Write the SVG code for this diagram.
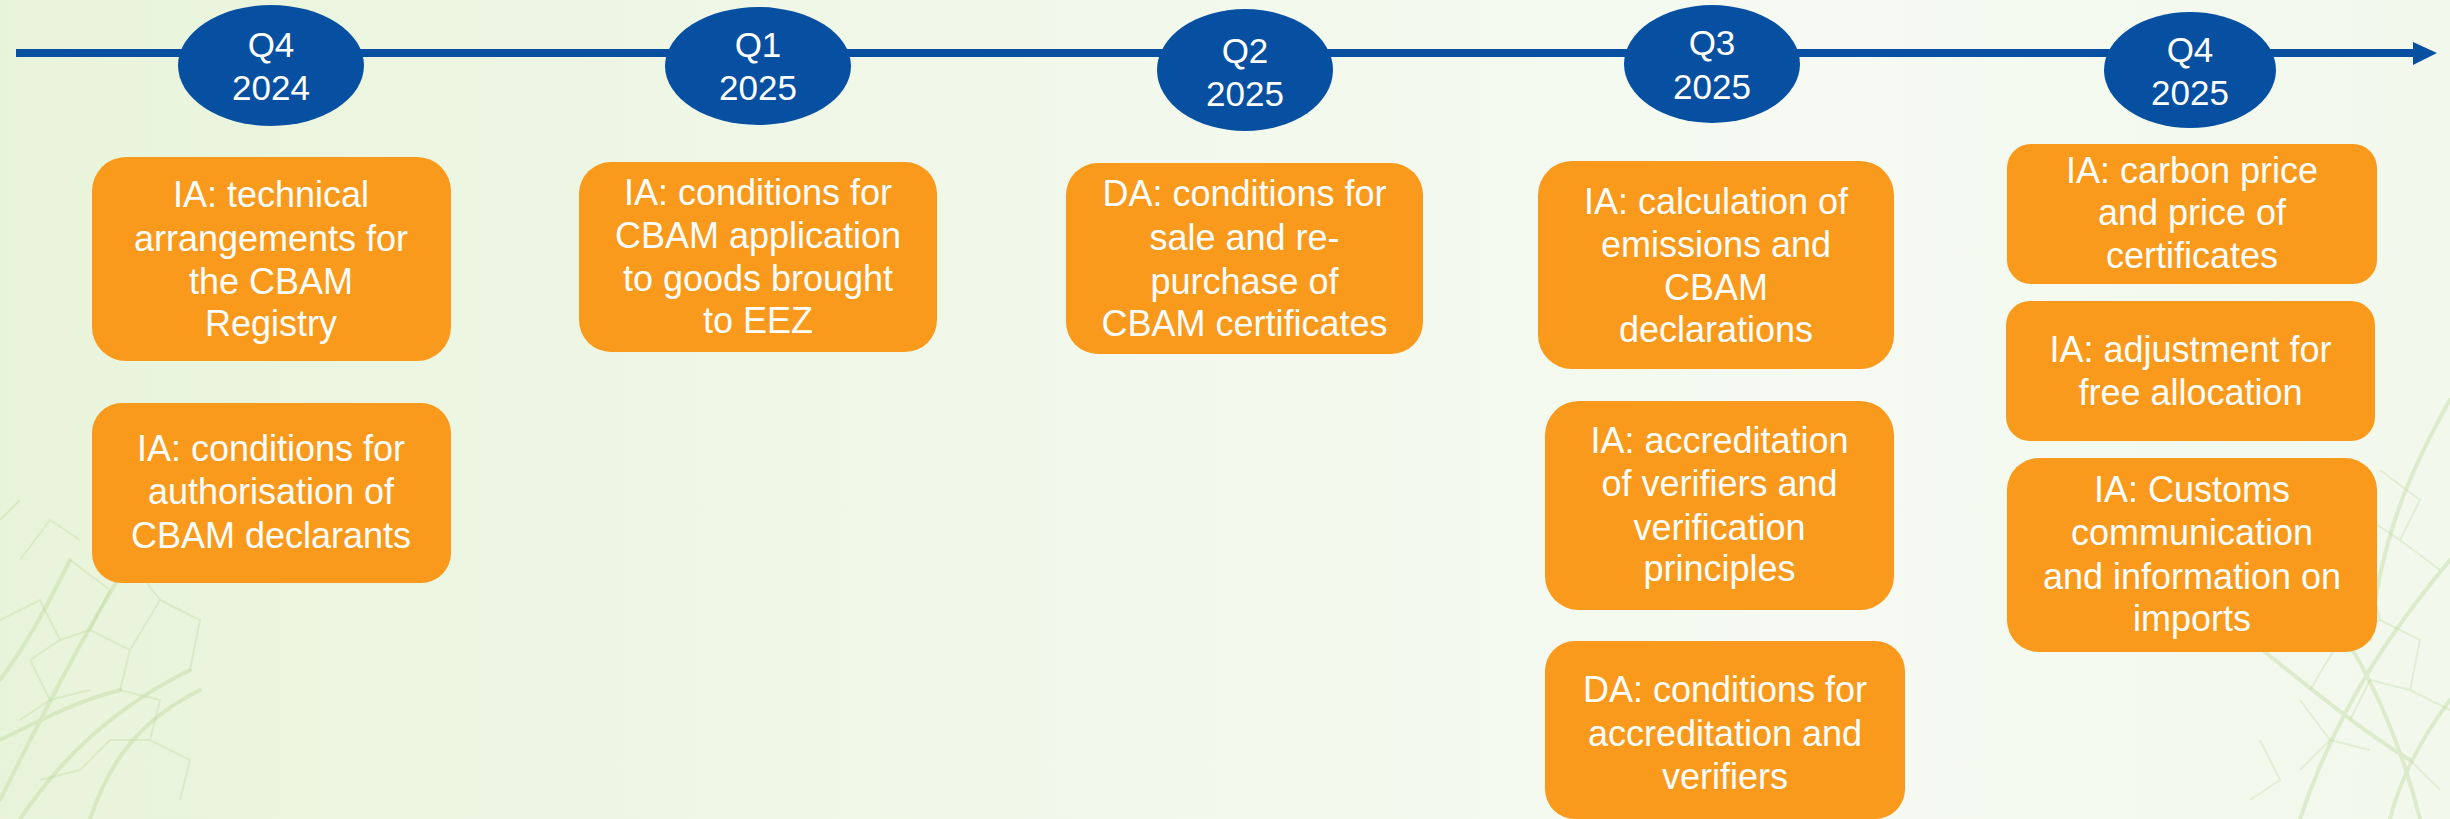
<svg xmlns="http://www.w3.org/2000/svg" width="2450" height="819" viewBox="0 0 2450 819">
<defs>
<linearGradient id="bg" x1="0" y1="0" x2="1" y2="0">
<stop offset="0" stop-color="#e8f4da"/>
<stop offset="0.45" stop-color="#f2f8eb"/>
<stop offset="0.75" stop-color="#f6faf2"/>
<stop offset="1" stop-color="#f2f8ec"/>
</linearGradient>
<style>
.box{fill:#f99a1c}
.q{fill:#0750a1}
.t{font-family:"Liberation Sans",Arial,sans-serif;font-size:36px;fill:#ffffff;text-anchor:middle}
.qt{font-family:"Liberation Sans",Arial,sans-serif;font-size:35px;fill:#ffffff;text-anchor:middle}
.vein{fill:none;stroke:#b5d38f;stroke-opacity:0.35;stroke-width:4;stroke-linecap:round}
.vein2{fill:none;stroke:#b5d38f;stroke-opacity:0.28;stroke-width:2}
</style>
</defs>
<rect x="0" y="0" width="2450" height="819" fill="url(#bg)"/>
<g id="leaves">
<path class="vein" d="M0,800 C40,720 80,640 130,560 M20,819 C60,760 110,710 190,670 M0,680 C30,640 50,600 70,560 M90,819 C110,760 140,720 200,690 M0,740 C40,720 80,700 120,690"/>
<path class="vein2" d="M0,620 L40,600 L60,640 L30,660 M70,560 L110,590 L90,630 L60,640 M90,630 L130,650 L120,690 M30,660 L50,700 L20,720 M50,700 L90,690 M120,690 L160,700 L150,740 L110,740 M110,740 L80,770 L40,780 M150,740 L190,760 L180,800 M130,560 L160,600 L130,650 M160,600 L200,620 L190,670 M20,560 L50,520 L80,540 M0,520 L20,500"/>
<path class="vein" d="M2450,400 C2410,470 2380,540 2370,640 M2290,560 C2340,620 2390,700 2420,819 M2450,560 C2400,620 2340,700 2300,819 M2250,640 C2300,680 2360,730 2410,760 M2450,700 C2420,740 2400,780 2390,819"/>
<path class="vein2" d="M2380,470 L2420,500 L2400,540 L2370,520 M2400,540 L2440,570 M2330,600 L2370,580 L2380,620 L2340,640 M2340,640 L2310,690 M2380,620 L2420,640 L2410,690 L2370,680 M2370,680 L2350,720 M2410,690 L2450,710 M2300,700 L2330,740 L2300,770 M2330,740 L2370,750 M2410,760 L2440,790 M2260,740 L2280,780 L2250,800"/>
</g>
<g id="timeline">
<line x1="16" y1="53" x2="2416" y2="53" stroke="#0750a1" stroke-width="8"/>
<polygon points="2413,42 2437,53 2413,65" fill="#0750a1"/>
</g>
<g id="q4-2024">
<ellipse class="q" cx="271" cy="65.5" rx="93" ry="60.5"/>
<text class="qt" x="271" y="57">Q4</text>
<text class="qt" x="271" y="100">2024</text>
</g>
<g id="q1-2025">
<ellipse class="q" cx="758" cy="66" rx="93" ry="59"/>
<text class="qt" x="758" y="57">Q1</text>
<text class="qt" x="758" y="100">2025</text>
</g>
<g id="q2-2025">
<ellipse class="q" cx="1245" cy="70" rx="88" ry="61"/>
<text class="qt" x="1245" y="63">Q2</text>
<text class="qt" x="1245" y="106">2025</text>
</g>
<g id="q3-2025">
<ellipse class="q" cx="1712" cy="64" rx="88" ry="59"/>
<text class="qt" x="1712" y="55">Q3</text>
<text class="qt" x="1712" y="99">2025</text>
</g>
<g id="q4-2025">
<ellipse class="q" cx="2190" cy="70" rx="86" ry="58"/>
<text class="qt" x="2190" y="62">Q4</text>
<text class="qt" x="2190" y="105">2025</text>
</g>
<g id="box-registry">
<rect class="box" x="92" y="157" width="359" height="204" rx="34"/>
<text class="t" x="271" y="207">IA: technical</text>
<text class="t" x="271" y="251">arrangements for</text>
<text class="t" x="271" y="294">the CBAM</text>
<text class="t" x="271" y="336">Registry</text>
</g>
<g id="box-authorisation">
<rect class="box" x="92" y="403" width="359" height="180" rx="30"/>
<text class="t" x="271" y="461">IA: conditions for</text>
<text class="t" x="271" y="504">authorisation of</text>
<text class="t" x="271" y="548">CBAM declarants</text>
</g>
<g id="box-eez">
<rect class="box" x="579" y="162" width="358" height="190" rx="32"/>
<text class="t" x="758" y="205">IA: conditions for</text>
<text class="t" x="758" y="248">CBAM application</text>
<text class="t" x="758" y="291">to goods brought</text>
<text class="t" x="758" y="333">to EEZ</text>
</g>
<g id="box-sale">
<rect class="box" x="1066" y="163" width="357" height="191" rx="32"/>
<text class="t" x="1244.5" y="206">DA: conditions for</text>
<text class="t" x="1244.5" y="250">sale and re-</text>
<text class="t" x="1244.5" y="294">purchase of</text>
<text class="t" x="1244.5" y="336">CBAM certificates</text>
</g>
<g id="box-calculation">
<rect class="box" x="1538" y="161" width="356" height="208" rx="34"/>
<text class="t" x="1716" y="214">IA: calculation of</text>
<text class="t" x="1716" y="257">emissions and</text>
<text class="t" x="1716" y="300">CBAM</text>
<text class="t" x="1716" y="342">declarations</text>
</g>
<g id="box-verifiers">
<rect class="box" x="1545" y="401" width="349" height="209" rx="34"/>
<text class="t" x="1719.5" y="453">IA: accreditation</text>
<text class="t" x="1719.5" y="496">of verifiers and</text>
<text class="t" x="1719.5" y="540">verification</text>
<text class="t" x="1719.5" y="581">principles</text>
</g>
<g id="box-accreditation">
<rect class="box" x="1545" y="641" width="360" height="178" rx="30"/>
<text class="t" x="1725" y="702">DA: conditions for</text>
<text class="t" x="1725" y="746">accreditation and</text>
<text class="t" x="1725" y="789">verifiers</text>
</g>
<g id="box-carbon">
<rect class="box" x="2007" y="144" width="370" height="140" rx="24"/>
<text class="t" x="2192" y="183">IA: carbon price</text>
<text class="t" x="2192" y="225">and price of</text>
<text class="t" x="2192" y="268">certificates</text>
</g>
<g id="box-free">
<rect class="box" x="2006" y="301" width="369" height="140" rx="24"/>
<text class="t" x="2190.5" y="362">IA: adjustment for</text>
<text class="t" x="2190.5" y="405">free allocation</text>
</g>
<g id="box-customs">
<rect class="box" x="2007" y="458" width="370" height="194" rx="32"/>
<text class="t" x="2192" y="502">IA: Customs</text>
<text class="t" x="2192" y="545">communication</text>
<text class="t" x="2192" y="589">and information on</text>
<text class="t" x="2192" y="631">imports</text>
</g>
</svg>
